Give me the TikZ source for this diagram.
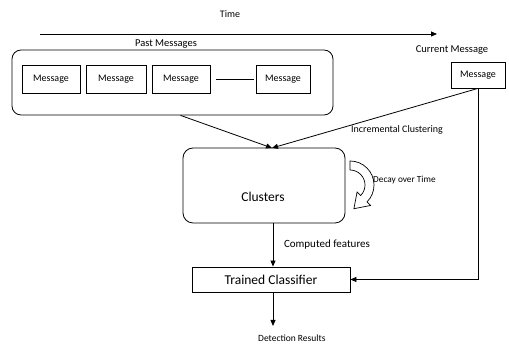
\documentclass[tikz,border=0pt]{standalone}
\usepackage{fontspec}
\setmainfont{Carlito}
\usetikzlibrary{arrows.meta,calc}

\begin{document}
\begin{tikzpicture}[x=1pt,y=1pt,
  box/.style={draw,line width=0.8pt,inner sep=0pt},
  msg/.style={box,minimum height=28pt,font=\fontsize{10}{12}\selectfont},
  link/.style={line width=0.8pt},
  arr/.style={link,-{Triangle[length=6pt,width=5pt]}},
  lbl/.style={inner sep=0pt}
]
\useasboundingbox (0,0) rectangle (509,344);

% time axis
\coordinate (t0) at (40,310);
\coordinate (t1) at (437,310);
\draw[arr] (t0) -- (t1);
\node[lbl,font=\fontsize{10}{12}\selectfont] (time) at (230,330) {Time};

% past messages
\node[draw,line width=0.8pt,rounded corners=9pt,minimum width=321pt,minimum height=65pt] (past) at (172.5,261.5) {};
\node[lbl,font=\fontsize{10.5}{12}\selectfont] (pastlbl) at (166,300) {Past Messages};
\node[msg,minimum width=58pt] (m1) at (51,265) {Message};
\node[msg,minimum width=60pt] (m2) at (116,265) {Message};
\node[msg,minimum width=58pt] (m3) at (181,265) {Message};
\node[msg,minimum width=54pt] (m4) at (283,265) {Message};
\draw[link] ([xshift=6pt]m3.east) -- ([xshift=-2pt]m4.west);

% current message
\node[lbl,font=\fontsize{10.5}{12}\selectfont] (curlbl) at (452,294) {Current Message};
\node[msg,minimum width=54pt,minimum height=26pt] (cur) at (478,269) {Message};

% clusters
\node[draw,line width=0.8pt,rounded corners=10pt,minimum width=162pt,minimum height=75pt] (clu) at (264,158.5) {};
\node[lbl,font=\fontsize{13.5}{16}\selectfont] (clulbl) at (263,147) {Clusters};
\coordinate (meet) at (272,196);
\draw[arr] ([xshift=8pt]past.south) -- (meet);
\draw[arr] (cur.south) -- (meet);
\node[lbl,anchor=west,font=\fontsize{10}{12}\selectfont] (inc) at (351,214) {Incremental Clustering};

% decay loop (hollow curved arrow)
\coordinate (dc) at (350,159);
\draw[line width=0.7pt,fill=white]
  ($(dc)+(90:24)$) arc[start angle=90,end angle=-45,radius=24]
  -- ($(dc)+(-45:29)$) -- ($(dc)+(3.9,-23.7)$) -- ($(dc)+(-45:10)$)
  -- ($(dc)+(-45:15)$) arc[start angle=-45,end angle=90,radius=15] -- cycle;
\node[lbl,anchor=west,font=\fontsize{9.3}{11}\selectfont] (decay) at (373,164) {Decay over Time};

% classifier
\node[box,minimum width=158pt,minimum height=25pt,font=\fontsize{13.5}{16}\selectfont] (cls) at (271,64.5) {Trained Classifier};
\draw[arr] ([xshift=9pt]clu.south) -- ([xshift=2pt]cls.north);
\node[lbl,font=\fontsize{11}{13}\selectfont] (feat) at (327,99) {Computed features};
\draw[arr] (cur.south) -- (cur.south |- cls.east) -- (cls.east);

% output
\coordinate (det) at (273,18);
\draw[arr] ([xshift=2pt]cls.south) -- (det);
\node[lbl,anchor=west,font=\fontsize{9.5}{11}\selectfont] (detlbl) at (258,6) {Detection Results};
\end{tikzpicture}
\end{document}
